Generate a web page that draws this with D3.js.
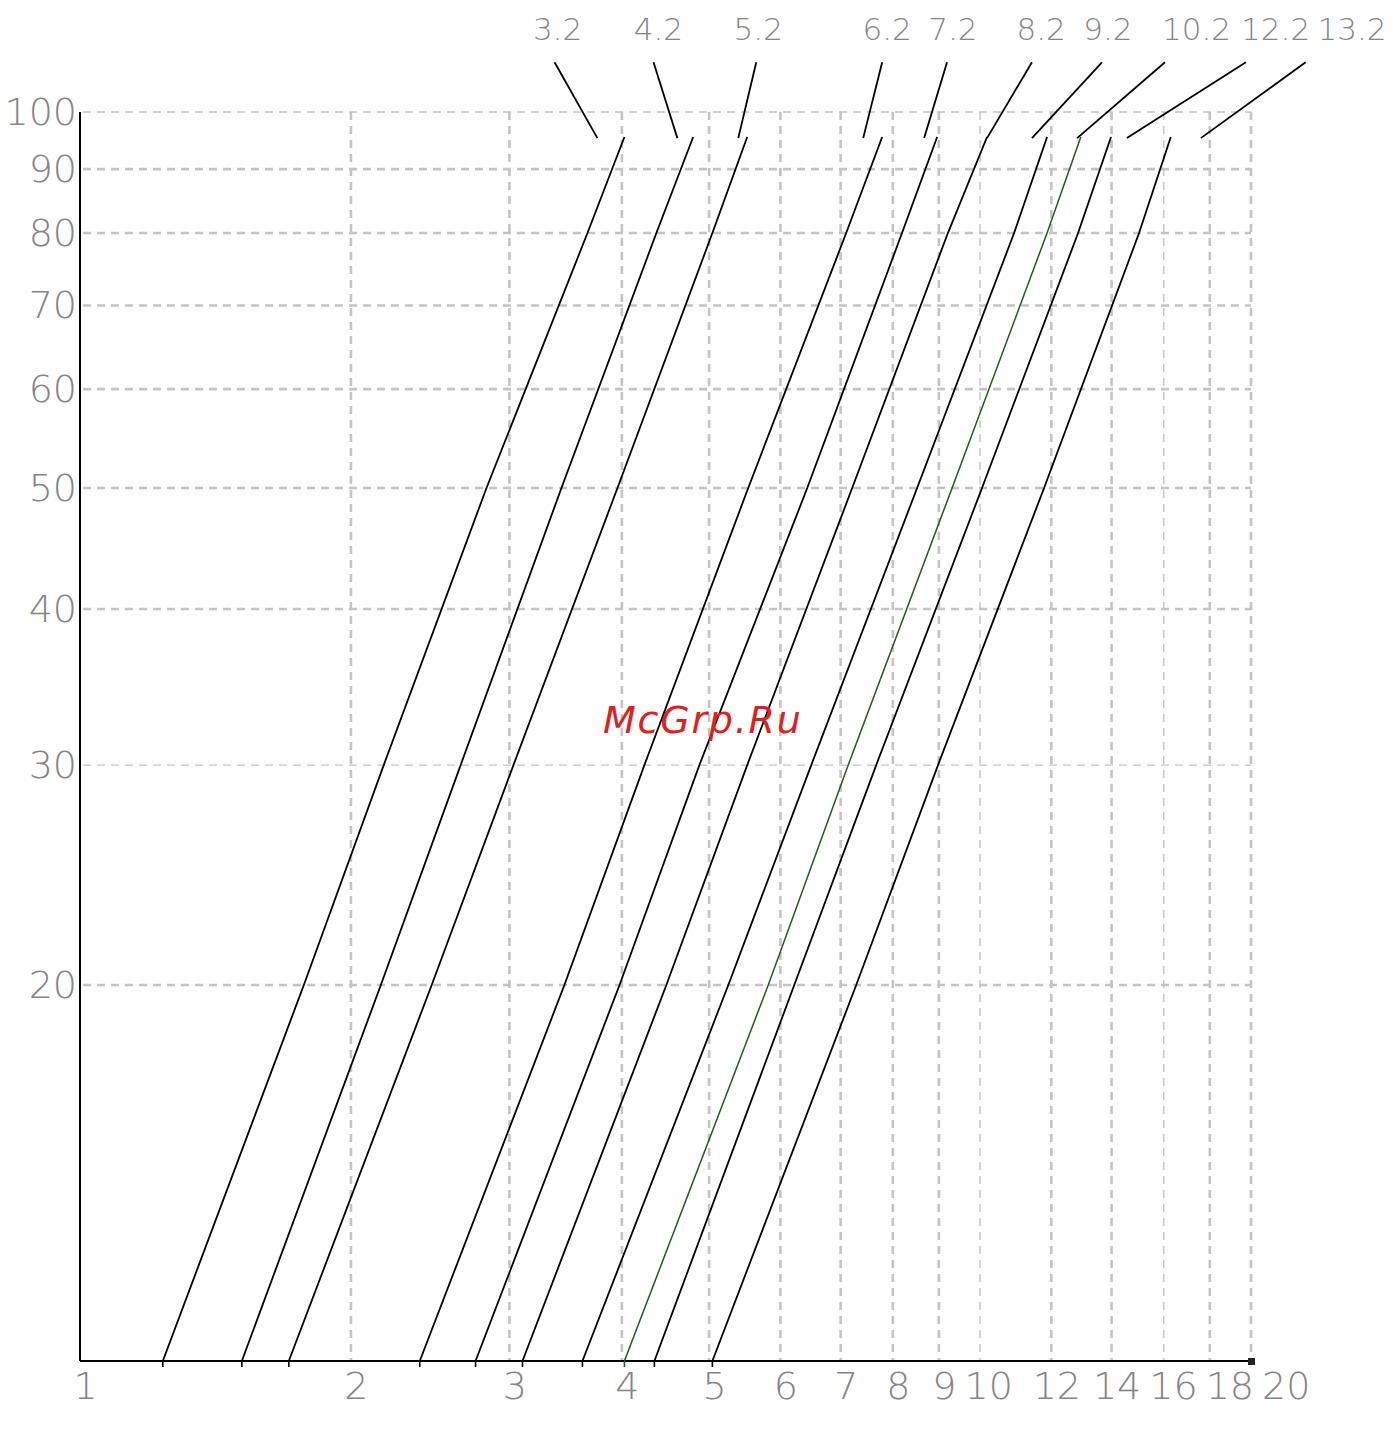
<!DOCTYPE html>
<html>
<head>
<meta charset="utf-8">
<script src="https://cdn.jsdelivr.net/npm/d3@7"></script>
<style>
  html, body { margin: 0; padding: 0; background: #fff; }
  svg { display: block; }
  .lbl { font-family: "DejaVu Sans", sans-serif; font-weight: 200; fill: #858585; }
</style>
</head>
<body>
<script>
// ---------- data ----------
const xTicks = [1, 2, 3, 4, 5, 6, 7, 8, 9, 10, 12, 14, 16, 18, 20];
const yTicks = [20, 30, 40, 50, 60, 70, 80, 90, 100];
const thinX = [10, 16];
const thinY = [100, 30];
const seriesLabels = ["3.2", "4.2", "5.2", "6.2", "7.2", "8.2", "9.2", "10.2", "12.2", "13.2"];
// y values at which each line's x was read
const yLevels = [10, 20, 30, 50, 80, 95.5];
const s32  = [1.236, 1.773, 2.175, 2.829, 3.663, 4.026];
const s42  = [1.513, 2.159, 2.648, 3.427, 4.369, 4.80];
const s52  = [1.706, 2.459, 3.031, 3.955, 5.042, 5.512];
const s62  = [2.385, 3.453, 4.237, 5.526, 7.10, 7.785];
const s72  = [2.751, 3.976, 4.877, 6.427, 8.19, 8.96];
const s82  = [3.102, 4.482, 5.512, 7.21, 9.21, 10.18];
const s92  = [3.616, 5.252, 6.493, 8.513, 10.91, 11.87];
const s102 = [4.026, 5.817, 7.137, 9.31, 11.87, 12.94];
const s122 = [4.347, 6.217, 7.667, 10.05, 12.85, 13.98];
const s132 = [5.042, 7.285, 8.98, 11.78, 15.02, 16.29];
const seriesX = [s32, s42, s52, s62, s72, s82, s92, s102, s122, s132];
const highlighted = "10.2";
// label annotations (data units)
const labelX      = [3.393, 4.392, 5.67, 7.885, 9.33, 11.69, 13.87, 17.4, 21.3, 25.9];
const leaderTopX  = [3.367, 4.337, 5.641, 7.785, 9.19, 11.42, 13.66, 16.05, 19.74, 23.0];
const leaderEndX  = [3.757, 4.61, 5.387, 7.416, 8.667, 10.18, 11.42, 12.82, 14.56, 17.59];
const labelY = 116.6, leaderTopY = 109.6, leaderEndY = 95.3;
const watermark = "McGrp.Ru";

// ---------- drawing ----------
const W = 1393, H = 1430;
const svg = d3.select("body").append("svg").attr("width", W).attr("height", H);

const x = d3.scaleLog().domain([1, 20]).range([80, 1251]);
const y = d3.scaleLog().domain([10, 100]).range([1361, 112]);

// grid
const grid = svg.append("g").attr("stroke", "#c4c4c4").attr("fill", "none");
grid.selectAll("line.h").data(yTicks).join("line")
  .attr("x1", x(1) + 3).attr("x2", x(20))
  .attr("y1", d => y(d)).attr("y2", d => y(d))
  .attr("stroke-width", d => thinY.includes(d) ? 1.4 : 2.6)
  .attr("stroke-dasharray", "8,6");
grid.selectAll("line.v").data(xTicks.slice(1)).join("line")
  .attr("x1", d => x(d)).attr("x2", d => x(d))
  .attr("y1", y(100)).attr("y2", y(10))
  .attr("stroke-width", d => thinX.includes(d) ? 1.4 : 2.6)
  .attr("stroke-dasharray", "8,6");

// axes (labels)
const xAxis = d3.axisBottom(x).tickValues(xTicks).tickFormat(d3.format("d")).tickSize(0).tickPadding(11);
const gx = svg.append("g").attr("transform", `translate(0,${y(10)})`).call(xAxis);
gx.select(".domain").remove();
gx.selectAll(".tick text").attr("font-size", 38).attr("dx", 5)
  .style("font-family", "DejaVu Sans, sans-serif").style("font-weight", 200).style("fill", "#858585");
// push crowded tick labels right so they do not overlap
(function () {
  let prevRight = -Infinity;
  gx.selectAll(".tick").each(function () {
    const t = d3.select(this).select("text");
    const bb = this.getBBox();
    const m = /translate\(([-\d.]+)/.exec(this.getAttribute("transform"));
    const tx = m ? +m[1] : 0;
    const left = tx + bb.x;
    const gap = 8;
    if (left < prevRight + gap) {
      const shift = prevRight + gap - left;
      t.attr("dx", 5 + shift);
      prevRight = tx + bb.x + bb.width + shift;
    } else {
      prevRight = tx + bb.x + bb.width;
    }
  });
})();

const yAxis = d3.axisLeft(y).tickValues(yTicks).tickFormat(d3.format("d")).tickSize(0).tickPadding(3);
const gy = svg.append("g").attr("transform", `translate(${x(1)},0)`).call(yAxis);
gy.select(".domain").remove();
gy.selectAll(".tick text").attr("font-size", 38)
  .style("font-family", "DejaVu Sans, sans-serif").style("font-weight", 200).style("fill", "#858585");

// axis lines
svg.append("line").attr("x1", x(1)).attr("x2", x(1)).attr("y1", y(100)).attr("y2", y(10))
  .attr("stroke", "#000").attr("stroke-width", 2);
svg.append("line").attr("x1", x(1)).attr("x2", x(20)).attr("y1", y(10)).attr("y2", y(10))
  .attr("stroke", "#000").attr("stroke-width", 2);
svg.append("rect").attr("x", x(20) - 3).attr("y", y(10) - 3).attr("width", 7).attr("height", 7).attr("fill", "#222");

// series lines
const line = d3.line().x(d => x(d[0])).y(d => y(d[1]));
seriesX.forEach((xs, i) => {
  const pts = xs.map((v, j) => [v, yLevels[j]]);
  const isHi = seriesLabels[i] === highlighted;
  svg.append("path").datum(pts).attr("d", line)
    .attr("fill", "none")
    .attr("stroke", isHi ? "#1d5e1d" : "#000")
    .attr("stroke-width", isHi ? 1.5 : 1.8);
  svg.append("line").attr("x1", x(xs[0])).attr("x2", x(xs[0]))
    .attr("y1", y(10)).attr("y2", y(10) + 6)
    .attr("stroke", isHi ? "#1d5e1d" : "#000").attr("stroke-width", 1.6);
});

// leaders + labels
seriesLabels.forEach((t, i) => {
  svg.append("line")
    .attr("x1", x(leaderTopX[i])).attr("y1", y(leaderTopY))
    .attr("x2", x(leaderEndX[i])).attr("y2", y(leaderEndY))
    .attr("stroke", "#000").attr("stroke-width", 1.8);
  svg.append("text").attr("class", "lbl")
    .attr("x", x(labelX[i])).attr("y", y(labelY))
    .attr("text-anchor", "middle").attr("dominant-baseline", "central")
    .attr("font-size", 31).text(t);
});

// watermark
svg.append("text")
  .attr("x", x(4.92)).attr("y", y(32.6))
  .attr("text-anchor", "middle").attr("dominant-baseline", "central")
  .attr("font-family", "DejaVu Sans, sans-serif").attr("font-style", "italic")
  .attr("font-size", 38).attr("letter-spacing", 1.8).attr("fill", "#dd2020")
  .text(watermark);
</script>
</body>
</html>
